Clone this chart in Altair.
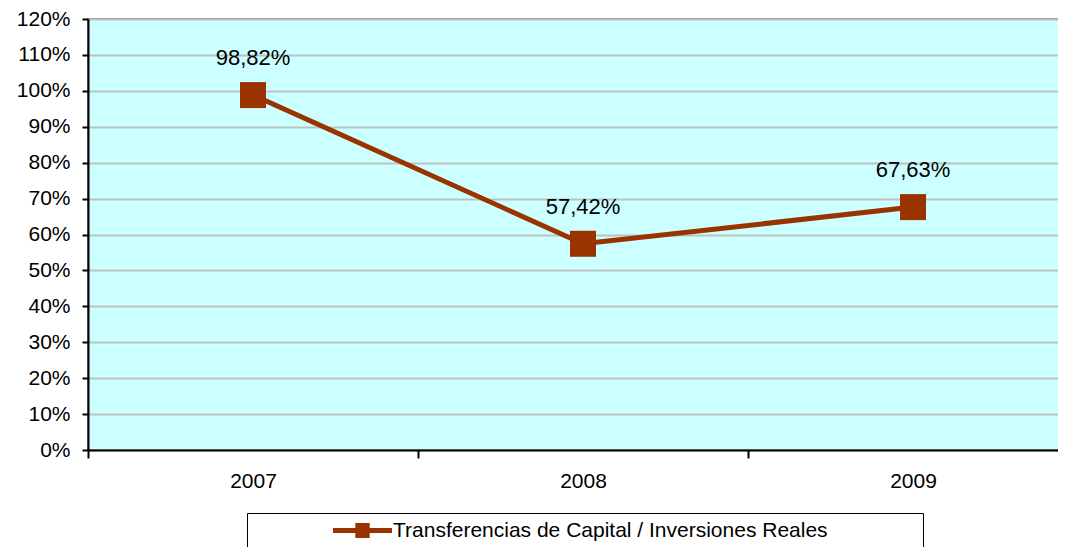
import altair as alt
import pandas as pd

years = ["2007", "2008", "2009"]
ratios = [0.9882, 0.5742, 0.6763]
series_name = "Transferencias de Capital / Inversiones Reales"
y_ticks = [0, 0.1, 0.2, 0.3, 0.4, 0.5, 0.6, 0.7, 0.8, 0.9, 1.0, 1.1, 1.2]

df = pd.DataFrame({"year": years, "ratio": ratios, "serie": [series_name] * len(years)})

COLOR = "#993300"
FONT = "Liberation Sans"
LEGEND_SYMBOL = ("M-2.95,-0.25L2.95,-0.25L2.95,0.25L-2.95,0.25Z "
                 "M-0.72,-0.75L0.72,-0.75L0.72,0.75L-0.72,0.75Z")
# trailing no-break spaces widen the legend frame; the final zero-width
# space keeps them from being trimmed
PAD = "\u00a0" * 15 + "\u200b"

x_enc = alt.X(
    "year:N",
    sort=years,
    scale=alt.Scale(type="band", paddingInner=0, paddingOuter=0),
    axis=alt.Axis(
        title=None, labelAngle=0, tickBand="extent", grid=False,
        domainColor="black", domainWidth=2, tickColor="black", tickWidth=2,
        tickSize=8, labelPadding=12, labelFont=FONT, labelFontSize=21,
        labelColor="black",
    ),
)
y_enc = alt.Y(
    "ratio:Q",
    scale=alt.Scale(domain=[0, 1.2], nice=False),
    axis=alt.Axis(
        title=None, values=y_ticks, format=".0%", grid=True,
        gridColor="#C0C0C0", gridWidth=2, domainColor="black", domainWidth=2,
        tickColor="black", tickWidth=2, tickSize=6, labelPadding=12,
        labelFont=FONT, labelFontSize=21, labelColor="black",
    ),
)

base = alt.Chart(df).encode(x=x_enc, y=y_enc)

line = base.mark_line(color=COLOR, strokeWidth=5)

points = base.mark_point(shape="square", filled=True, size=676, opacity=1).encode(
    color=alt.Color(
        "serie:N",
        scale=alt.Scale(range=[COLOR]),
        legend=alt.Legend(
            title=None, orient="none", legendX=159, legendY=494,
            direction="vertical", symbolType=LEGEND_SYMBOL, symbolSize=400,
            symbolFillColor=COLOR, symbolStrokeWidth=0, symbolOffset=98,
            labelOffset=20, labelFont=FONT, labelFontSize=21,
            labelColor="black", labelLimit=0,
            labelExpr="datum.label + '" + PAD + "'",
            strokeColor="black", fillColor="white", padding=7,
        ),
    )
)

labels = base.transform_calculate(
    label="replace(format(datum.ratio, '.2%'), '.', ',')"
).mark_text(dy=-37, fontSize=22, font=FONT, color="black").encode(text="label:N")

chart = (
    alt.layer(line, points, labels)
    .properties(
        width=990, height=431,
        autosize=alt.AutoSizeParams(type="none"),
        padding={"left": 80, "top": 11, "right": -20, "bottom": 97},
    )
    .configure(background="white")
    .configure_view(fill="#CCFFFF", stroke="#808080", strokeWidth=2)
)

chart.save("out.html", embed_options={"renderer": "svg", "actions": False})
